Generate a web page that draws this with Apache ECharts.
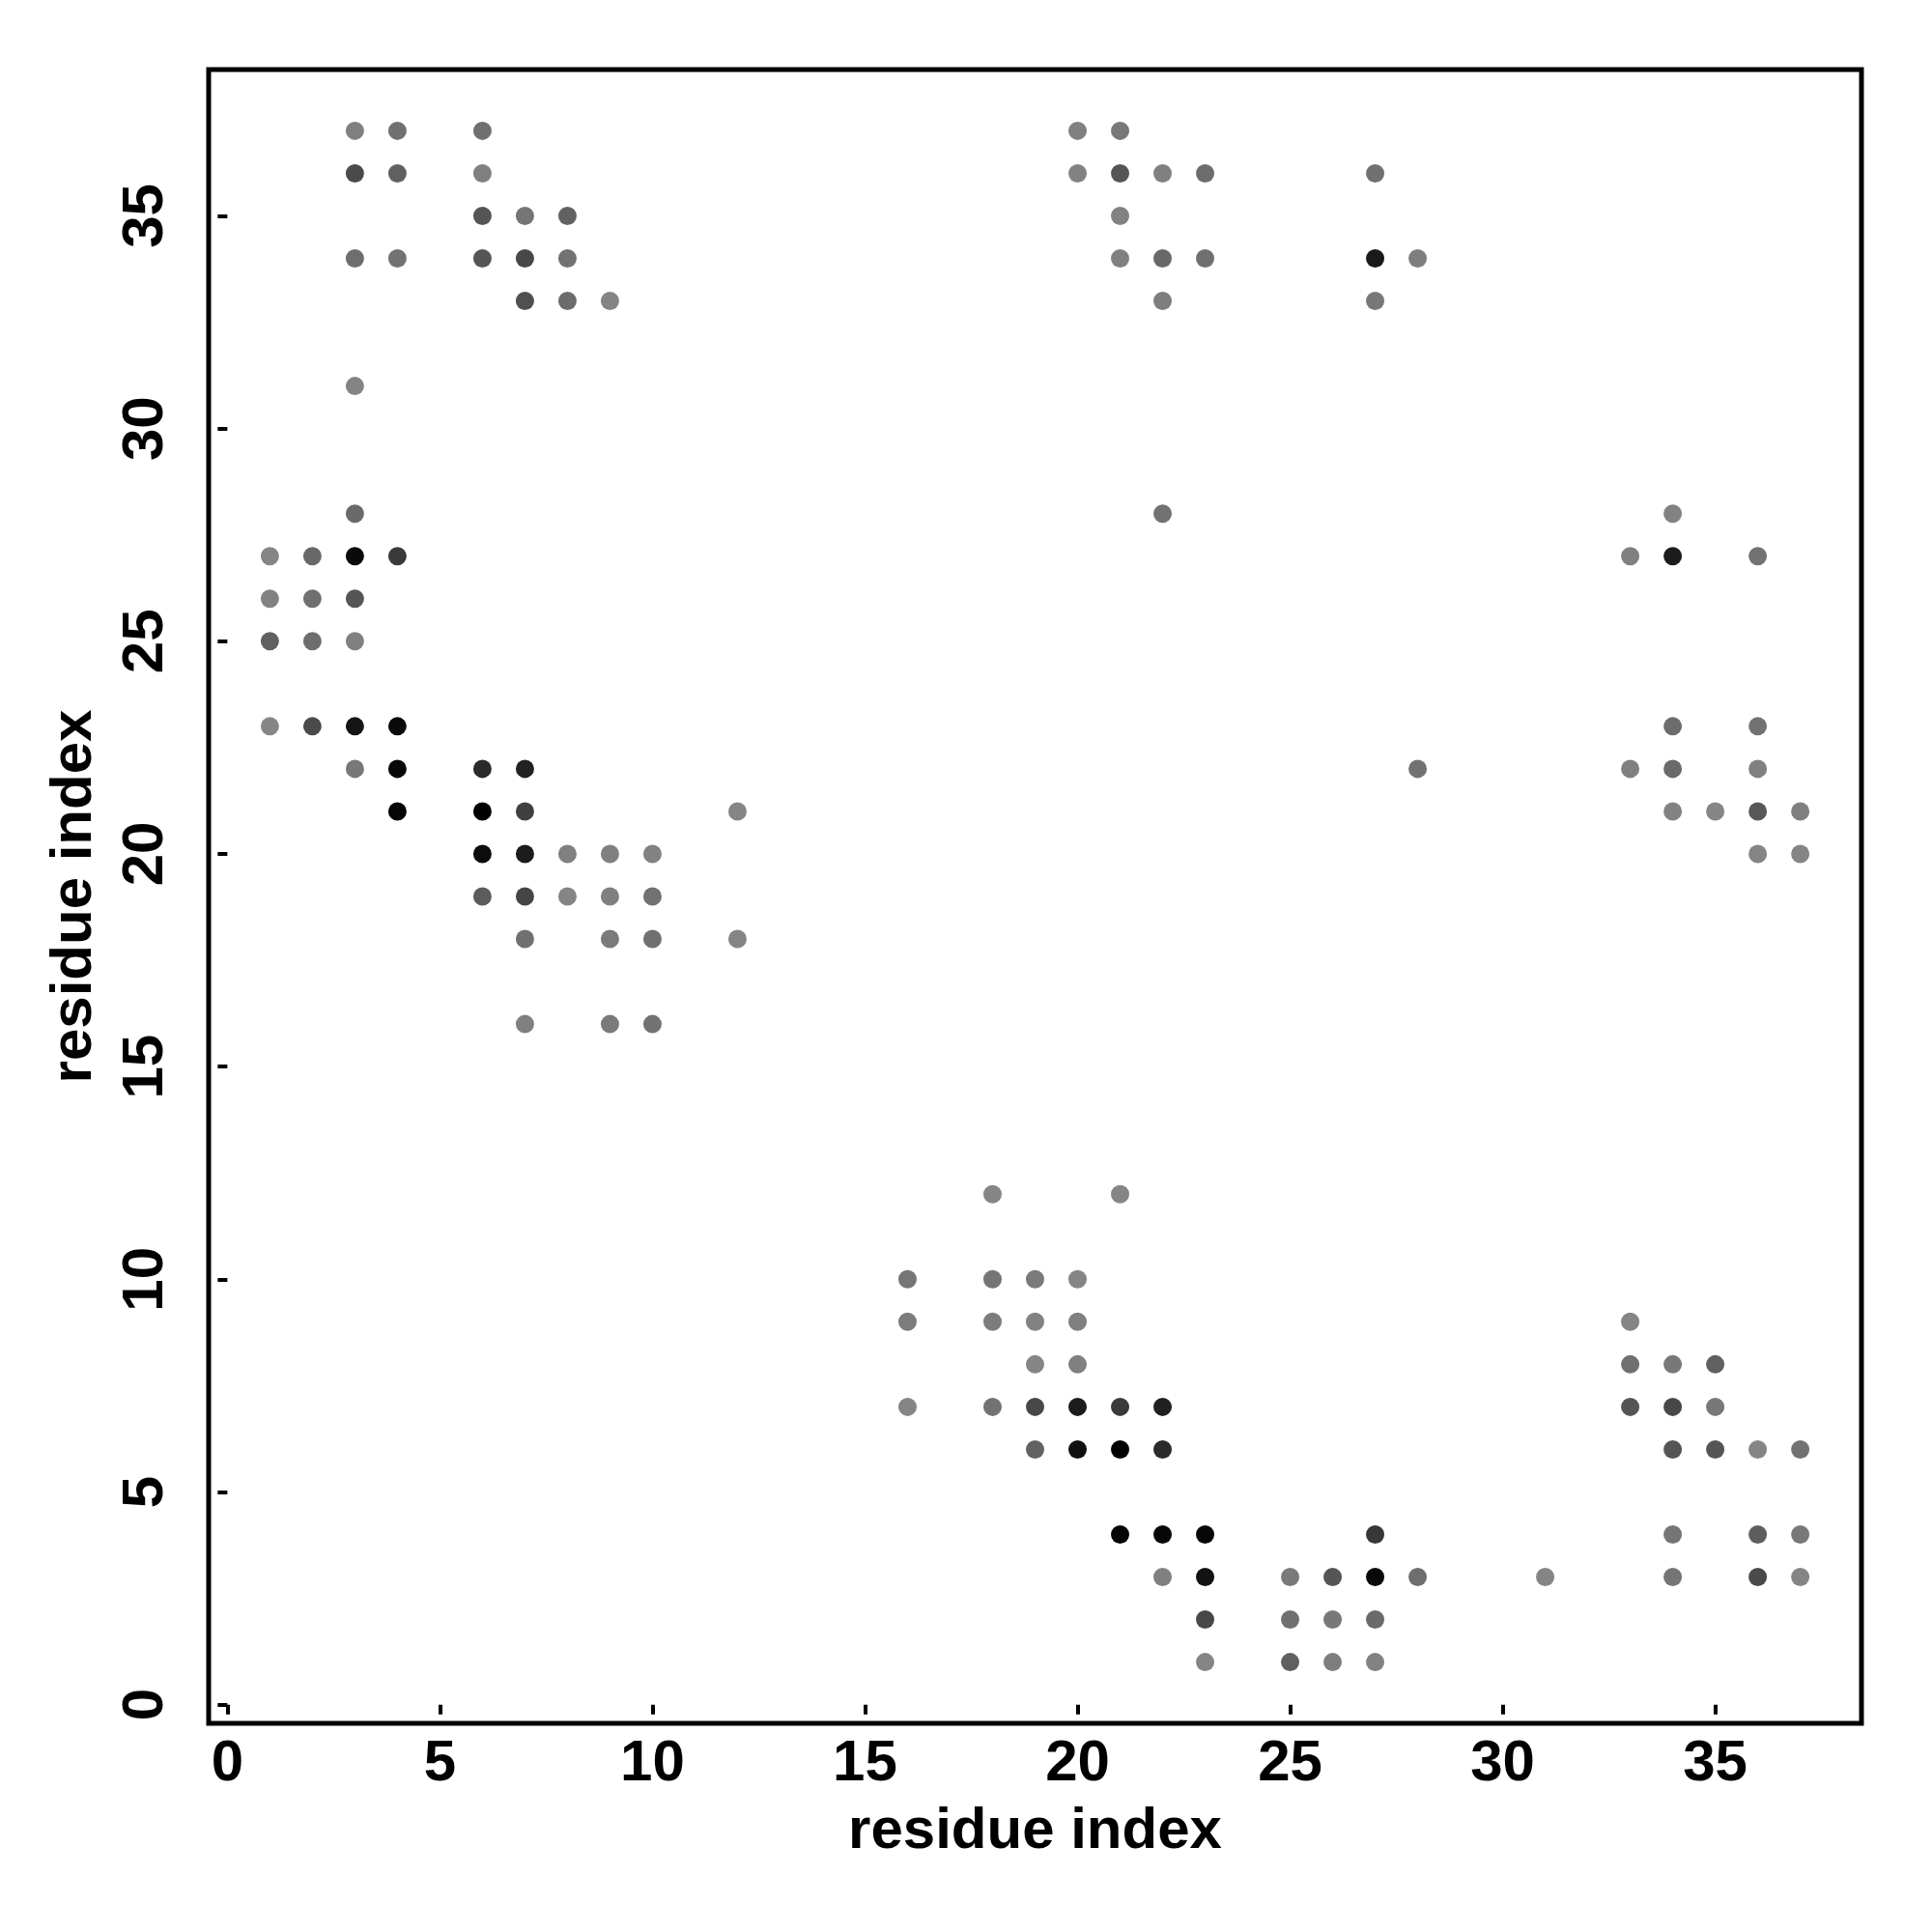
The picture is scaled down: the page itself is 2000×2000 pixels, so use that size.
<!DOCTYPE html>
<html>
<head>
<meta charset="utf-8">
<script src="https://cdn.jsdelivr.net/npm/echarts@6/dist/echarts.min.js"></script>
<style>
html,body{margin:0;padding:0;background:#fff;}
#chart{width:2000px;height:2000px;}
</style>
</head>
<body>
<div id="chart"></div>
<script>
// residue index pairs (x, y) and grey level of each contact point (0 = black, 255 = white)
const xIdx = [
  3,4,6, 3,4,6, 6,7,8, 3,4,6,7,8, 7,8,9, 3, 3,
  1,2,3,4, 1,2,3, 1,2,3, 1,2,3,4, 3,4,6,7, 4,6,7,12,
  6,7,8,9,10, 6,7,8,9,10, 7,9,10,12, 7,9,10,
  20,21, 20,21,22,23,27, 21, 21,22,23,27,28, 22,27,
  22,34, 33,34,36, 34,36, 28,33,34,36, 34,35,36,37, 36,37,
  18,21, 16,18,19,20, 16,18,19,20, 19,20, 16,18,19,20,21,22,
  19,20,21,22, 21,22,23,27, 22,23,25,26,27,28,31, 23,25,26,27, 23,25,26,27,
  33, 33,34,35, 33,34,35, 34,35,36,37, 34,36,37, 34,36,37
];
const yIdx = [
  37,37,37, 36,36,36, 35,35,35, 34,34,34,34,34, 33,33,33, 31, 28,
  27,27,27,27, 26,26,26, 25,25,25, 23,23,23,23, 22,22,22,22, 21,21,21,21,
  20,20,20,20,20, 19,19,19,19,19, 18,18,18,18, 16,16,16,
  37,37, 36,36,36,36,36, 35, 34,34,34,34,34, 33,33,
  28,28, 27,27,27, 23,23, 22,22,22,22, 21,21,21,21, 20,20,
  12,12, 10,10,10,10, 9,9,9,9, 8,8, 7,7,7,7,7,7,
  6,6,6,6, 4,4,4,4, 3,3,3,3,3,3,3, 2,2,2,2, 1,1,1,1,
  9, 8,8,8, 7,7,7, 6,6,6,6, 4,4,4, 3,3,3
];
const shade = [
  128,112,112, 74,96,128, 85,117,98, 110,114,85,72,114, 80,108,132, 132, 106,
  133,104,10,58, 130,112,85, 96,110,128, 134,74,21,10, 120,8,42,34, 5,0,64,133,
  12,28,128,128,130, 92,69,133,128,114, 112,122,112,133, 128,122,114,
  128,120, 130,85,128,108,112, 130, 128,104,112,26,126, 126,120,
  114,130, 128,28,114, 108,114, 114,128,106,128, 130,133,88,128, 133,133,
  133,133, 117,117,122,133, 124,124,130,128, 133,128, 133,114,72,28,58,32,
  98,16,0,42, 5,8,8,56, 128,18,122,85,10,110,133, 72,112,120,106, 133,96,126,130,
  133, 112,120,96, 85,72,120, 85,85,133,114, 117,94,120, 117,74,133
];
const tickValues = [0, 5, 10, 15, 20, 25, 30, 35];
const axisTitle = 'residue index';

const points = xIdx.map((x, i) => {
  const g = shade[i];
  return { value: [x, yIdx[i]], itemStyle: { color: 'rgb(' + g + ',' + g + ',' + g + ')', opacity: 1 } };
});

const FONT = '"Liberation Sans", Arial, Helvetica, sans-serif';
const chart = echarts.init(document.getElementById('chart'), null, { renderer: 'canvas' });

function axisCommon() {
  return {
    type: 'value',
    min: -0.44,
    max: 38.44,
    splitLine: { show: false },
    axisLine: { show: false },
    axisTick: {
      show: true, customValues: tickValues, length: 10, inside: false,
      lineStyle: { color: '#000', width: 4 }
    },
    nameLocation: 'middle',
    name: axisTitle,
    nameTextStyle: { fontFamily: FONT, fontWeight: 'bold', fontSize: 60, color: '#000' }
  };
}

const xAxis = axisCommon();
xAxis.axisLabel = { customValues: tickValues, fontFamily: FONT, fontWeight: 'bold', fontSize: 60, color: '#000', margin: 12 };
xAxis.nameGap = 82;

const yAxis = axisCommon();
yAxis.axisLabel = { customValues: tickValues, fontFamily: FONT, fontWeight: 'bold', fontSize: 60, color: '#000', margin: 35, rotate: 90 };
yAxis.nameGap = 109;

chart.setOption({
  animation: false,
  backgroundColor: '#fff',
  grid: {
    left: 216, right: 73, top: 72, bottom: 216,
    show: true, borderColor: '#000', borderWidth: 5, backgroundColor: 'transparent'
  },
  xAxis: xAxis,
  yAxis: yAxis,
  series: [{
    type: 'scatter',
    symbol: 'circle',
    symbolSize: 19,
    itemStyle: { opacity: 1 },
    data: points
  }]
});
</script>
</body>
</html>
